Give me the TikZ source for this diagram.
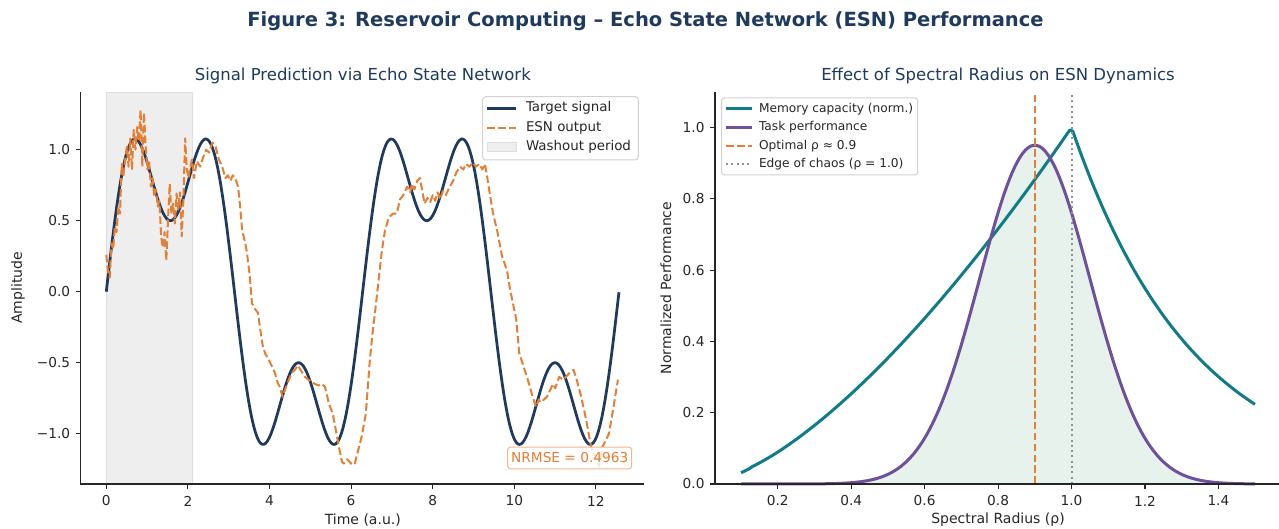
\documentclass[tikz,border=0pt]{standalone}
\usepackage{fontspec}
\setmainfont{DejaVu Sans}
\definecolor{navy}{RGB}{31,58,95}
\definecolor{esnorange}{RGB}{230,126,52}
\definecolor{mcteal}{RGB}{16,124,136}
\definecolor{tppurple}{RGB}{110,80,155}
\definecolor{spine}{RGB}{38,38,38}
\definecolor{washgray}{RGB}{238,238,238}
\definecolor{washedge}{RGB}{222,222,222}
\definecolor{mint}{RGB}{231,242,236}
\definecolor{chaosgray}{RGB}{145,145,145}
\definecolor{legedge}{RGB}{210,210,210}
\begin{document}
\begin{tikzpicture}[x=1pt,y=1pt,
  every node/.style={inner sep=0pt,outer sep=0pt},
  spineline/.style={line width=1.1pt,draw=spine},
  tickmark/.style={line width=1.1pt,draw=spine},
  ticklab/.style={font=\fontsize{13.7}{16}\selectfont,text=spine},
  axlab/.style={font=\fontsize{14}{17}\selectfont,text=spine},
  subtitle/.style={font=\fontsize{16.5}{20}\selectfont,text=navy},
  legtext/.style={font=\fontsize{13.4}{16}\selectfont,text=spine,anchor=west},
  rlegtext/.style={font=\fontsize{12.2}{15}\selectfont,text=spine,anchor=west},
  legbox/.style={draw=legedge,line width=1pt,fill=white,fill opacity=0.8,rounded corners=3pt},
  targetline/.style={navy,line width=2.75pt,line join=round},
  esnline/.style={esnorange,line width=2pt,line join=round,dash pattern=on 7.6pt off 3.3pt},
  mcline/.style={mcteal,line width=3pt,line join=round},
  tpline/.style={tppurple,line width=3pt,line join=round},
  optline/.style={esnorange,line width=2pt,dash pattern=on 7.6pt off 3.3pt},
  chaosline/.style={chaosgray,line width=2pt,dash pattern=on 2pt off 3.3pt}]
\useasboundingbox (0,0) rectangle (1279,529);
\fill[white] (0,0) rectangle (1279,529);

% figure title
\node[font=\bfseries\fontsize{19.5}{23}\selectfont,text=navy] (figtitle) at (645.5,507.5) {Figure 3: Reservoir Computing – Echo State Network (ESN) Performance};

% ---------------- left panel: signal prediction ----------------
\node[subtitle] (lefttitle) at (362.8,453) {Signal Prediction via Echo State Network};
\begin{scope}[shift={(106.3,237.3)},x=40.8pt,y=142pt]
  % washout shading
  \filldraw[fill=washgray,draw=washedge,line width=0.8pt] (0,-1.3542) rectangle (2.1,1.406);
  % target signal
  \draw[targetline] plot[domain=0:12.566,samples=300] (\x,{sin(\x r)+0.5*sin(3*\x r)});
  % ESN output
  \draw[esnline] plot coordinates {
    (0.000,0.26) (0.042,0.14) (0.084,0.10) (0.126,0.34) (0.168,0.30) (0.210,0.46)
    (0.252,0.42) (0.294,0.60) (0.336,0.55) (0.378,0.90) (0.420,0.82) (0.462,0.93)
    (0.504,1.02) (0.546,0.88) (0.588,1.08) (0.630,0.86) (0.672,1.14) (0.714,1.00)
    (0.756,1.16) (0.798,1.06) (0.840,1.28) (0.882,0.88) (0.924,1.26) (0.966,1.02)
    (1.008,0.86) (1.050,0.92) (1.092,0.74) (1.134,0.80) (1.176,0.67) (1.218,0.72)
    (1.260,0.60) (1.302,0.64) (1.344,0.39) (1.386,0.31) (1.428,0.42) (1.470,0.22)
    (1.512,0.50) (1.554,0.76) (1.596,0.55) (1.638,0.62) (1.680,0.48) (1.722,0.69)
    (1.764,0.58) (1.806,0.70) (1.848,0.39) (1.890,0.65) (1.932,1.08) (1.974,0.86)
    (2.016,0.80) (2.058,0.88) (2.100,0.93)
    (2.15,0.80) (2.22,0.92) (2.30,0.88) (2.38,0.95) (2.45,1.00) (2.52,0.98)
    (2.60,1.05) (2.68,1.02) (2.76,0.93) (2.84,0.88) (2.92,0.80) (2.98,0.82)
    (3.04,0.78) (3.10,0.82) (3.16,0.80) (3.23,0.74) (3.28,0.60) (3.33,0.43)
    (3.40,0.35) (3.45,0.27) (3.52,0.10) (3.57,-0.08) (3.64,-0.12) (3.72,-0.15)
    (3.78,-0.28) (3.84,-0.39) (3.90,-0.44) (3.97,-0.47) (4.05,-0.52) (4.13,-0.57)
    (4.20,-0.64) (4.25,-0.67) (4.32,-0.74) (4.38,-0.69) (4.46,-0.63) (4.55,-0.57)
    (4.62,-0.55) (4.70,-0.52) (4.78,-0.56) (4.87,-0.60) (4.95,-0.62) (5.03,-0.63)
    (5.11,-0.65) (5.20,-0.66) (5.28,-0.65) (5.36,-0.67) (5.45,-0.78) (5.55,-0.86)
    (5.63,-0.98) (5.72,-1.12) (5.78,-1.20) (5.82,-1.21) (5.90,-1.18) (5.97,-1.20)
    (6.03,-1.22) (6.09,-1.21) (6.17,-1.12) (6.26,-1.02) (6.36,-0.86) (6.46,-0.48)
    (6.53,-0.28) (6.60,-0.11) (6.70,0.15) (6.76,0.30) (6.83,0.43) (6.90,0.50)
    (6.95,0.53) (7.03,0.55) (7.12,0.55) (7.20,0.65) (7.28,0.68) (7.37,0.74)
    (7.45,0.70) (7.49,0.76) (7.55,0.72) (7.62,0.78) (7.69,0.80) (7.75,0.70)
    (7.80,0.62) (7.87,0.66) (7.94,0.63) (8.00,0.68) (8.06,0.64) (8.12,0.70)
    (8.18,0.65) (8.25,0.71) (8.32,0.68) (8.42,0.74) (8.50,0.78) (8.58,0.84)
    (8.67,0.88) (8.75,0.86) (8.82,0.90) (8.90,0.88) (8.98,0.91) (9.06,0.88)
    (9.14,0.90) (9.22,0.86) (9.28,0.90) (9.34,0.80) (9.41,0.67) (9.48,0.55)
    (9.58,0.43) (9.70,0.25) (9.82,0.15) (9.90,0.01) (9.98,-0.10) (10.05,-0.20)
    (10.12,-0.43) (10.23,-0.53) (10.32,-0.61) (10.45,-0.74) (10.53,-0.81) (10.60,-0.76)
    (10.65,-0.78) (10.80,-0.74) (10.95,-0.65) (11.00,-0.68) (11.10,-0.60) (11.20,-0.62)
    (11.36,-0.57) (11.45,-0.55) (11.52,-0.61) (11.64,-0.74) (11.76,-0.90) (11.88,-1.09)
    (11.98,-1.15) (12.08,-1.23) (12.15,-1.10) (12.25,-1.04) (12.32,-1.00) (12.42,-0.83)
    (12.54,-0.62)};
  % spines
  \draw[spineline] (-0.6275,1.406) -- (-0.6275,-1.3542) -- (13.19,-1.3542);
  % x ticks
  \foreach \t in {0,2,...,12} {
    \draw[tickmark] (\t,-1.3542) -- ++(0pt,-4.8pt);
    \node[ticklab] (lxt\t) at (\t,-1.4739) {\t};
  }
  % y ticks
  \foreach \v/\l [count=\i] in {-1.0/−1.0,-0.5/−0.5,0.0/0.0,0.5/0.5,1.0/1.0} {
    \draw[tickmark] (-0.6275,\v) -- ++(-4.8pt,0pt);
    \node[ticklab,anchor=east] (lyt\i) at ([xshift=-10.5pt]-0.6275,\v) {\l};
  }
\end{scope}
\node[axlab] (lxlabel) at (362.8,9) {Time (a.u.)};
\node[axlab,rotate=90] (lylabel) at (18,241) {Amplitude};

% left legend
\draw[legbox] (482.7,432.3) rectangle (638.3,369);
\coordinate (la1) at (487,420.7); \coordinate (lb1) at (516,420.7);
\coordinate (la2) at (487,401.3); \coordinate (lb2) at (516,401.3);
\draw[targetline] (la1) -- (lb1);
\draw[esnline] (la2) -- (lb2);
\filldraw[fill=washgray,draw=washedge,line width=0.8pt] (487,377.2) rectangle (516,386.2);
\node[legtext] (lt1) at (526,420.7) {Target signal};
\node[legtext] (lt2) at (526,401.3) {ESN output};
\node[legtext] (lt3) at (526,381.7) {Washout period};

% error box
\node[draw=esnorange!55,fill=white,fill opacity=0.8,text opacity=1,text=esnorange,
  rounded corners=3pt,line width=1pt,minimum width=124pt,minimum height=21.7pt,
  font=\fontsize{13.7}{16}\selectfont] (nrmse) at (569.7,71) {NRMSE = 0.4963};

% ---------------- right panel: spectral radius ----------------
\node[subtitle] (righttitle) at (998,453) {Effect of Spectral Radius on ESN Dynamics};
\begin{scope}[shift={(704.3,45)},x=367.2pt,y=356.5pt]
  % shaded area under task performance
  \fill[mint] (0.1,0) -- plot[domain=0.1:1.5,samples=200] (\x,{0.95*exp(-1*(\x-0.9)*(\x-0.9)/0.045)}) -- (1.5,0) -- cycle;
  % memory capacity
  \draw[mcline] plot[domain=0.1:0.9965,samples=120] (\x,{\x^1.5}) -- plot[domain=1.0035:1.5,samples=60] (\x,{exp(-3*(\x-1))});
  % task performance
  \draw[tpline] plot[domain=0.1:1.5,samples=200] (\x,{0.95*exp(-1*(\x-0.9)*(\x-0.9)/0.045)});
  % reference lines
  \coordinate (optb) at (0.9,0); \coordinate (optt) at (0.9,1.0996);
  \coordinate (chb) at (1.0,0); \coordinate (cht) at (1.0,1.0996);
  \draw[optline] (optb) -- (optt);
  \draw[chaosline] (chb) -- (cht);
  % spines
  \draw[spineline] (0.02914,1.0996) -- (0.02914,0) -- (1.57,0);
  % x ticks
  \foreach \r [count=\i] in {0.2,0.4,0.6,0.8,1.0,1.2,1.4} {
    \draw[tickmark] (\r,0) -- ++(0pt,-4.8pt);
    \node[ticklab] (rxt\i) at (\r,-0.0477) {\r};
  }
  % y ticks
  \foreach \v [count=\i] in {0.0,0.2,0.4,0.6,0.8,1.0} {
    \draw[tickmark] (0.02914,\v) -- ++(-4.8pt,0pt);
    \node[ticklab,anchor=east] (ryt\i) at ([xshift=-10.5pt]0.02914,\v) {\v};
  }
\end{scope}
\node[axlab] (rxlabel) at (998,9) {Spectral Radius (ρ)};
\node[axlab,rotate=90] (rylabel) at (666,241) {Normalized Performance};

% right legend
\draw[legbox] (721.5,431) rectangle (917.7,354);
\coordinate (ra1) at (726,420); \coordinate (rb1) at (752,420);
\coordinate (ra2) at (726,401.5); \coordinate (rb2) at (752,401.5);
\coordinate (ra3) at (726,383); \coordinate (rb3) at (752,383);
\coordinate (ra4) at (726,364.5); \coordinate (rb4) at (752,364.5);
\draw[mcline] (ra1) -- (rb1);
\draw[tpline] (ra2) -- (rb2);
\draw[optline] (ra3) -- (rb3);
\draw[chaosline] (ra4) -- (rb4);
\node[rlegtext] (rt1) at (759,420) {Memory capacity (norm.)};
\node[rlegtext] (rt2) at (759,401.5) {Task performance};
\node[rlegtext] (rt3) at (759,383) {Optimal ρ ≈ 0.9};
\node[rlegtext] (rt4) at (759,364.5) {Edge of chaos (ρ = 1.0)};
\end{tikzpicture}
\end{document}
